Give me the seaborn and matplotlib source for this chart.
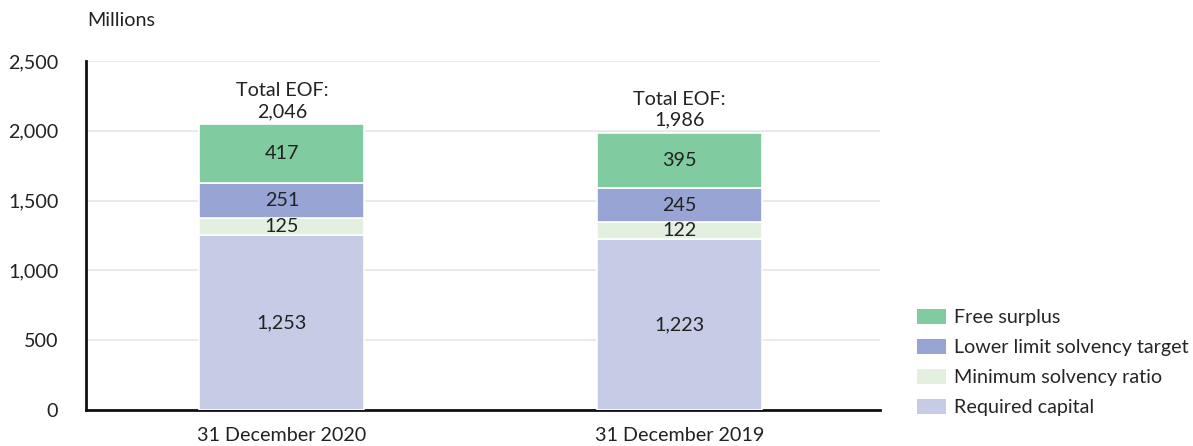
import numpy as np
import pandas as pd
import matplotlib
matplotlib.use("Agg")
import matplotlib.pyplot as plt
from matplotlib.patches import Patch
import seaborn as sns

dates = ["31 December 2020", "31 December 2019"]
required_capital = [1253, 1223]
min_solvency = [125, 122]
lower_limit = [251, 245]
free_surplus = [417, 395]
total_eof = [2046, 1986]

series_names = ["Required capital", "Minimum solvency ratio",
                "Lower limit solvency target", "Free surplus"]
series_values = [required_capital, min_solvency, lower_limit, free_surplus]
colors = ["#c6cbe6", "#e3f0df", "#98a5d4", "#80cba0"]

sns.set_style("white")
plt.rcParams["font.family"] = ["Lato", "DejaVu Sans"]
fs = 14.2

fig = plt.figure(figsize=(11.93, 4.46), dpi=100)
ax = fig.add_axes([0.0721, 0.0807, 0.6655, 0.7825])

bottom = np.zeros(len(dates))
for name, vals, col in zip(series_names, series_values, colors):
    df = pd.DataFrame({"date": dates, "value": vals})
    sns.barplot(data=df, x="date", y="value", color=col, width=0.415,
                bottom=bottom, edgecolor="white", linewidth=1.2,
                saturation=1, ax=ax, zorder=3)
    for i, v in enumerate(vals):
        ax.text(i, bottom[i] + v / 2, f"{v:,}", ha="center", va="center",
                fontsize=fs, color="#222222", zorder=4)
    bottom = bottom + np.array(vals)

for i, t in enumerate(total_eof):
    ax.text(i, t + 30, f"Total EOF:\n{t:,}", ha="center", va="bottom",
            fontsize=fs, color="#222222", linespacing=1.28)

ax.set_ylim(0, 2500)
ax.set_xlim(-0.492, 1.503)
ax.set_yticks(range(0, 2501, 500))
ax.yaxis.set_major_formatter(matplotlib.ticker.FuncFormatter(lambda v, p: f"{int(v):,}"))
ax.grid(axis="y", color="#e6e6e6", linewidth=1.2, zorder=0)
ax.set_axisbelow(True)
ax.set_xlabel("")
ax.set_ylabel("")
ax.tick_params(axis="both", length=0, labelsize=fs, colors="#222222")
ax.tick_params(axis="y", pad=20)
ax.tick_params(axis="x", pad=12)
for s in ["top", "right"]:
    ax.spines[s].set_visible(False)
for s in ["left", "bottom"]:
    ax.spines[s].set_color("#111111")
    ax.spines[s].set_linewidth(2)

fig.text(87 / 1193, 1 - 21 / 446, "Millions", ha="left", va="center",
         fontsize=fs, color="#222222")

handles = [Patch(facecolor=c, edgecolor="none") for c in colors[::-1]]
ax.legend(handles, series_names[::-1], loc="lower left",
          bbox_to_anchor=(1.0365, -0.04), frameon=False, fontsize=fs,
          handlelength=1.5, handleheight=0.8, handletextpad=0.4,
          labelspacing=0.64, borderaxespad=0)

fig.savefig("out.png", dpi=100)
